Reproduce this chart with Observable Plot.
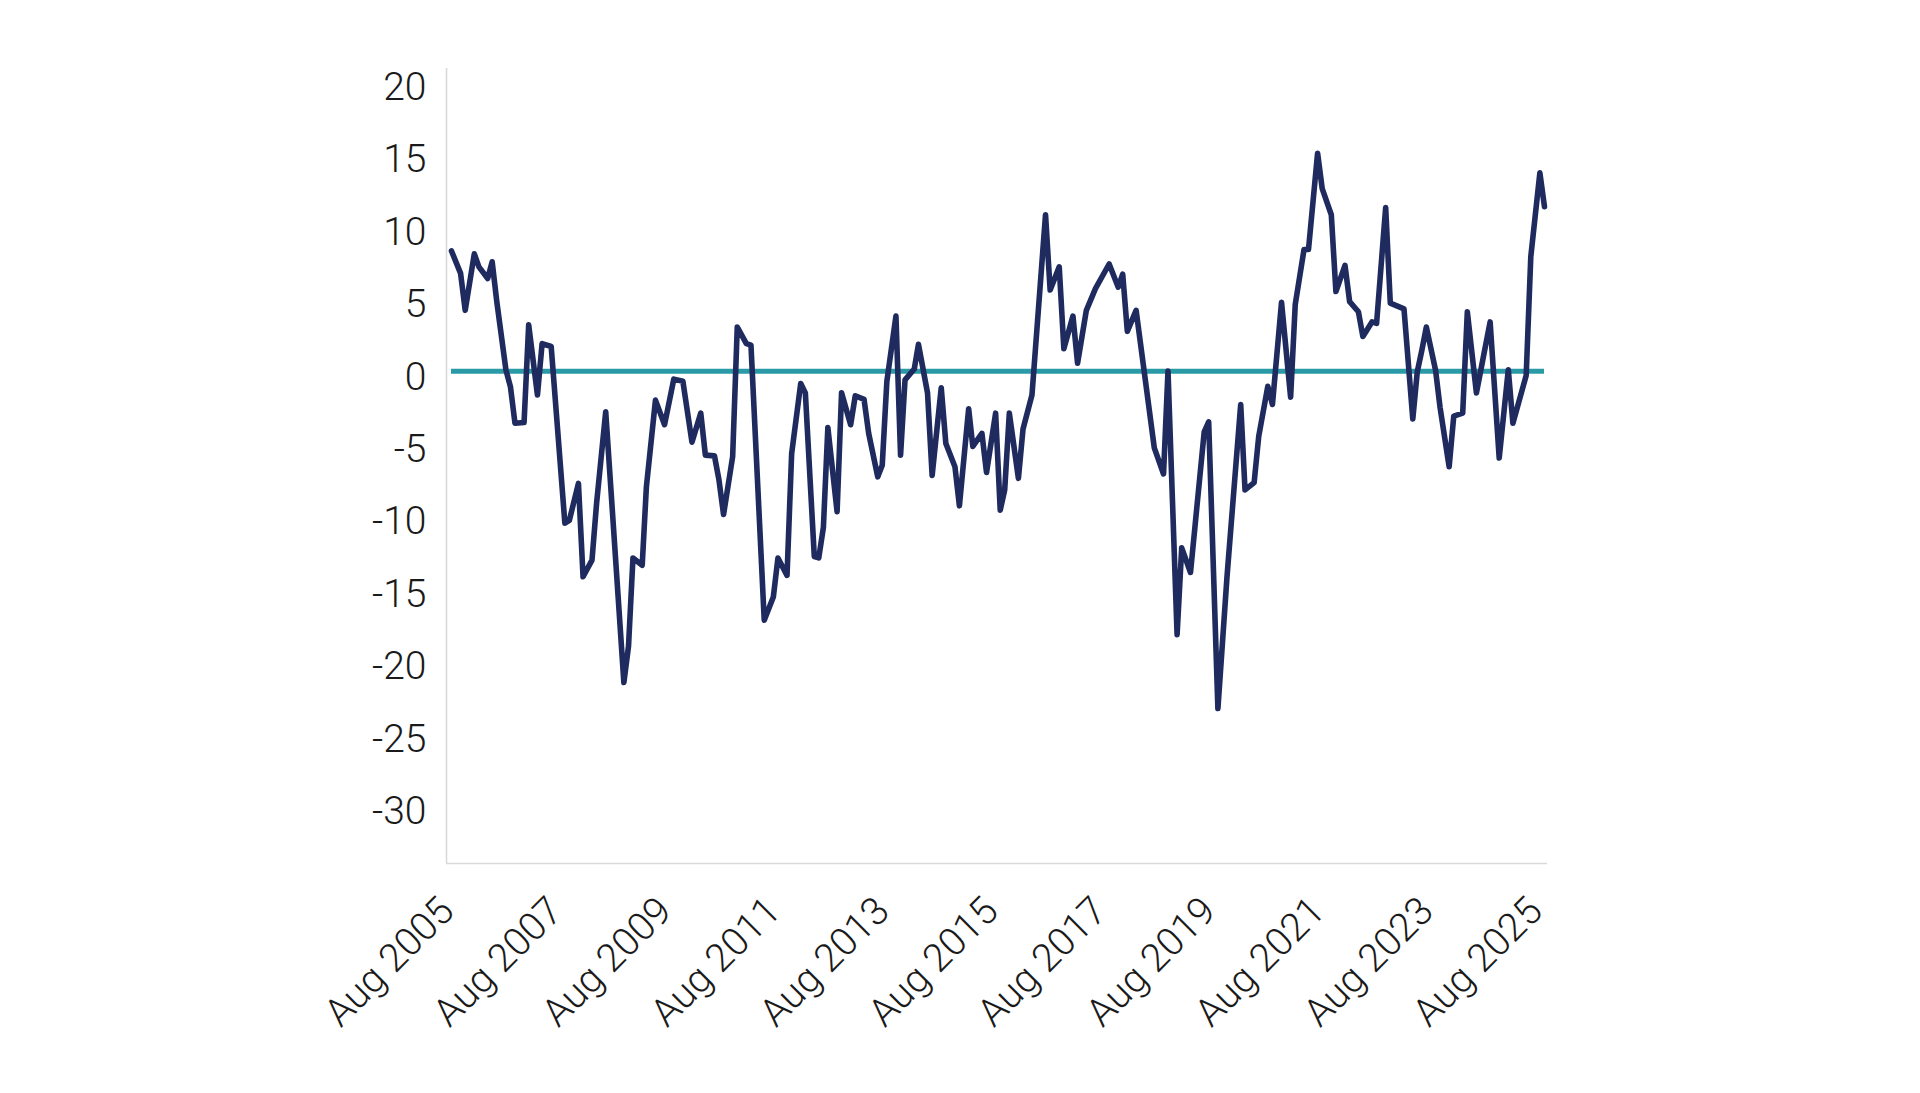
<!DOCTYPE html>
<html>
<head>
<meta charset="utf-8">
<script src="https://cdn.jsdelivr.net/npm/d3@7"></script>
<script src="https://cdn.jsdelivr.net/npm/@observablehq/plot@0.6"></script>
<style>
  html, body { margin: 0; padding: 0; background: #ffffff; }
  #chart svg { display: block; }
</style>
</head>
<body>
<div id="chart"></div>
<script>
// ---- Data ----
const dates = [
  "2005-08","2005-10","2005-11","2006-01","2006-02","2006-04","2006-05","2006-06","2006-08","2006-09",
  "2006-10","2006-12","2007-01","2007-03","2007-04","2007-06","2007-09","2007-10","2007-12","2008-01",
  "2008-03","2008-04","2008-06","2008-10","2008-11","2008-12","2009-02","2009-03","2009-05","2009-07",
  "2009-09","2009-11","2010-01","2010-03","2010-04","2010-06","2010-07","2010-08","2010-10","2010-11",
  "2011-01","2011-02","2011-05","2011-07","2011-08","2011-10","2011-11","2012-01","2012-02","2012-04",
  "2012-05","2012-06","2012-07","2012-09","2012-10","2012-12","2013-01","2013-03","2013-04","2013-06",
  "2013-07","2013-08","2013-10","2013-11","2013-12","2014-02","2014-03","2014-05","2014-06","2014-08",
  "2014-09","2014-11","2014-12","2015-02","2015-03","2015-05","2015-06","2015-08","2015-09","2015-10",
  "2015-11","2016-01","2016-02","2016-04","2016-07","2016-08","2016-10","2016-11","2017-01","2017-02",
  "2017-04","2017-06","2017-09","2017-11","2017-12","2018-01","2018-03","2018-07","2018-09","2018-10",
  "2018-12","2019-01","2019-03","2019-06","2019-07","2019-09","2019-11","2020-02","2020-03","2020-05",
  "2020-06","2020-08","2020-09","2020-11","2021-01","2021-02","2021-04","2021-05","2021-07","2021-08",
  "2021-10","2021-11","2022-01","2022-02","2022-04","2022-05","2022-07","2022-08","2022-10","2022-11",
  "2023-02","2023-04","2023-05","2023-06","2023-07","2023-09","2023-10","2023-12","2024-01","2024-03",
  "2024-04","2024-06","2024-09","2024-11","2025-01","2025-02","2025-05","2025-06","2025-08","2025-09"
];
const values = [
  8.3, 6.75, 4.2, 8.1, 7.2, 6.4, 7.55, 4.8, 0.1, -1.1,
  -3.6, -3.55, 3.2, -1.65, 1.9, 1.7, -10.5, -10.3, -7.75, -14.2,
  -13.05, -9.1, -2.8, -21.5, -19.0, -12.9, -13.4, -8.0, -2.0, -3.7,
  -0.55, -0.7, -4.9, -2.9, -5.8, -5.85, -7.5, -9.9, -5.9, 3.05,
  1.9, 1.8, -17.2, -15.6, -12.9, -14.1, -5.7, -0.85, -1.5, -12.8,
  -12.9, -10.8, -3.9, -9.7, -1.5, -3.7, -1.7, -1.95, -4.3, -7.3,
  -6.5, -0.7, 3.8, -5.8, -0.6, 0.15, 1.85, -1.5, -7.2, -1.15,
  -5.0, -6.6, -9.3, -2.6, -5.2, -4.3, -7.0, -2.9, -9.6, -8.2,
  -2.9, -7.4, -4.0, -1.65, 10.8, 5.6, 7.2, 1.55, 3.8, 0.55,
  4.2, 5.7, 7.4, 5.8, 6.7, 2.75, 4.2, -5.3, -7.1, 0.0,
  -18.2, -12.2, -13.9, -4.2, -3.5, -23.3, -14.2, -2.3, -8.2, -7.7,
  -4.5, -1.05, -2.3, 4.75, -1.8, 4.6, 8.4, 8.4, 15.05, 12.6,
  10.8, 5.5, 7.3, 4.8, 4.1, 2.4, 3.4, 3.3, 11.3, 4.7,
  4.3, -3.3, -0.05, 1.45, 3.05, 0.05, -2.5, -6.6, -3.1, -2.9,
  4.1, -1.5, 3.4, -6.0, 0.1, -3.6, -0.3, 7.9, 13.7, 11.35
];
const yTicks = [20, 15, 10, 5, 0, -5, -10, -15, -20, -25, -30];
const xTickDates = ["2005-08","2007-08","2009-08","2011-08","2013-08","2015-08","2017-08","2019-08","2021-08","2023-08","2025-08"];
const xTickLabels = ["Aug 2005","Aug 2007","Aug 2009","Aug 2011","Aug 2013","Aug 2015","Aug 2017","Aug 2019","Aug 2021","Aug 2023","Aug 2025"];
const referenceValue = 0;
const xDomain = ["2005-08", "2025-09"];
const yDomain = [-34, 20.9];

// ---- Build ----
const parse = d3.utcParse("%Y-%m");
const series = dates.map((d, i) => ({date: parse(d), value: values[i]}));
const ticks = xTickDates.map((d, i) => ({date: parse(d), label: xTickLabels[i]}));
const refLine = [{y: referenceValue, x1: parse(dates[0]), x2: parse(dates[dates.length - 1])}];
const xStart = parse(xDomain[0]);

const FONT = "Roboto, 'Noto Sans', 'DejaVu Sans', sans-serif";
const TEXT = "#1a1a1a";
const AXIS = "#d9d9d9";

const chart = Plot.plot({
  width: 1920,
  height: 1093,
  marginLeft: 446,
  marginRight: 373,
  marginTop: 68,
  marginBottom: 230,
  style: {fontFamily: FONT, background: "#ffffff", overflow: "visible"},
  x: {type: "utc", domain: xDomain.map(parse), insetLeft: 5, insetRight: 3, axis: null},
  y: {domain: yDomain, axis: null},
  marks: [
    // axis lines
    Plot.ruleY([yDomain[0]], {stroke: AXIS, strokeWidth: 1.6}),
    Plot.ruleX([xStart], {dx: -5, stroke: AXIS, strokeWidth: 1.6}),
    // y tick labels
    Plot.text(yTicks, {
      y: d => d, text: d => String(d), frameAnchor: "left", dx: -20, dy: 6,
      textAnchor: "end", fontSize: 39, fontWeight: 300, fill: TEXT
    }),
    // x tick labels
    Plot.text(ticks, {
      x: "date", text: "label", frameAnchor: "bottom", rotate: -45,
      textAnchor: "end", lineAnchor: "top", dx: -15, dy: 30,
      fontSize: 39, fontWeight: 300, fill: TEXT
    }),
    // reference line
    Plot.ruleY(refLine, {y: "y", x1: "x1", x2: "x2", stroke: "#2a9aa6", strokeWidth: 5}),
    // series
    Plot.lineY(series, {x: "date", y: "value", stroke: "#1f2a5e", strokeWidth: 5.6, strokeLinejoin: "round"})
  ]
});
document.getElementById("chart").append(chart);
</script>
</body>
</html>
